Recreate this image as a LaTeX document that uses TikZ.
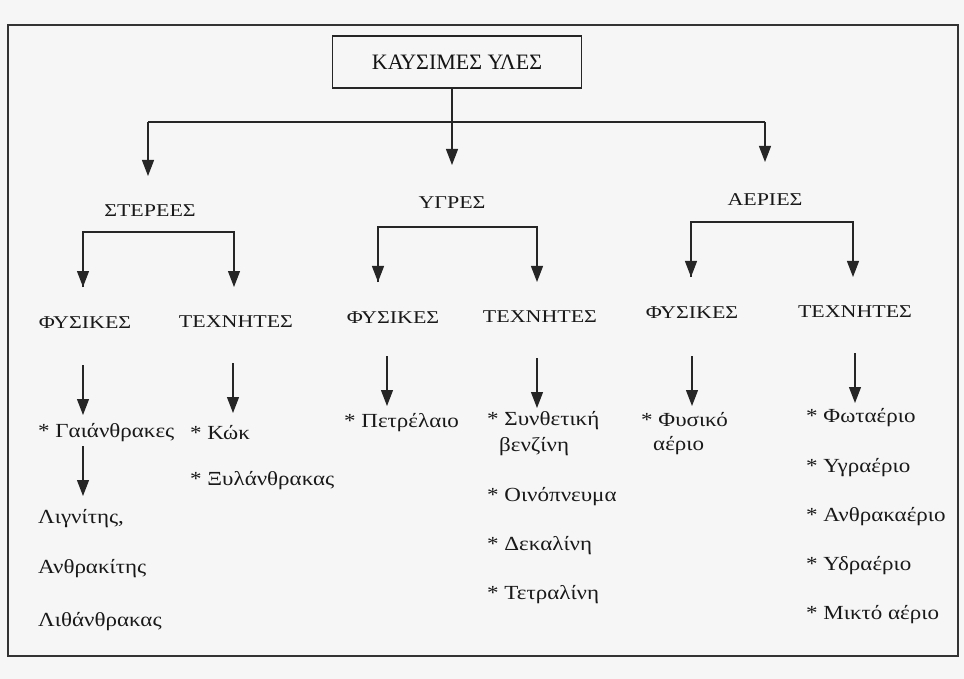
\documentclass[tikz,border=0pt]{standalone}
\usepackage{fontspec}
\setmainfont{Liberation Serif}
\newfontfamily\catfont[FakeStretch=1.22]{Liberation Serif}
\newfontfamily\itemfont[FakeStretch=1.15]{Liberation Serif}
\usetikzlibrary{arrows.meta}
\begin{document}
\begin{tikzpicture}[x=1pt,y=-1pt,
  conn/.style={line width=1.2pt, draw=black!85},
  arr/.style={conn, -{Triangle[width=12pt,length=16pt]}},
  cat/.style={inner sep=1pt, font=\catfont\fontsize{18}{21}\selectfont, text=black!90},
  item/.style={inner sep=0pt, anchor=west, font=\itemfont\fontsize{20}{23}\selectfont, text=black!90},
  topbox/.style={draw=black!85, line width=1.6pt, minimum width=249pt, minimum height=52pt, font=\fontsize{22}{25}\selectfont, text=black!92}
]
\fill[gray!7] (0,0) rectangle (964,679);
\useasboundingbox (0,0) rectangle (964,679);
\draw[line width=1.8pt, draw=black!80] (8,25) rectangle (958,656);

% root
\node[topbox] (root) at (457,62) {ΚΑΥΣΙΜΕΣ ΥΛΕΣ};

% level 2
\node[cat] (ster) at (150,211) {ΣΤΕΡΕΕΣ};
\node[cat] (ygr) at (452,203) {ΥΓΡΕΣ};
\node[cat] (aer) at (765,200) {ΑΕΡΙΕΣ};
\coordinate (busL) at (148,122);
\coordinate (busR) at (765,122);
\coordinate (busM) at (452,122);
\draw[conn] (busL) -- (busR);
\draw[arr] (root.south -| busM) -- (452,165);
\draw[arr] (busL) -- (148,176);
\draw[arr] (busR) -- (765,162);

% level 3
\node[cat] (s1) at (85,323) {ΦΥΣΙΚΕΣ};
\node[cat] (s2) at (236,322) {ΤΕΧΝΗΤΕΣ};
\node[cat] (y1) at (393,318) {ΦΥΣΙΚΕΣ};
\node[cat] (y2) at (540,317) {ΤΕΧΝΗΤΕΣ};
\node[cat] (a1) at (692,313) {ΦΥΣΙΚΕΣ};
\node[cat] (a2) at (855,312) {ΤΕΧΝΗΤΕΣ};

\draw[arr] (83,287) -- (83,232) -- (234,232) -- (234,287);
\draw[arr] (83,232) -- (83,287);
\draw[arr] (378,282) -- (378,227) -- (537,227) -- (537,282);
\draw[arr] (378,227) -- (378,282);
\draw[arr] (691,277) -- (691,222) -- (853,222) -- (853,277);
\draw[arr] (691,222) -- (691,277);

% level 4 arrows
\draw[arr] (83,365) -- (83,415);
\draw[arr] (233,363) -- (233,413);
\draw[arr] (387,356) -- (387,406);
\draw[arr] (537,358) -- (537,408);
\draw[arr] (692,356) -- (692,406);
\draw[arr] (855,353) -- (855,403);

% items
\node[item] (i1) at (38,433) {* Γαιάνθρακες};
\draw[arr] (83,446) -- (83,496);
\node[item] (i1a) at (38,519) {Λιγνίτης,};
\node[item] (i1b) at (38,569) {Ανθρακίτης};
\node[item] (i1c) at (38,622) {Λιθάνθρακας};

\node[item] (i2) at (190,433) {* Κώκ};
\node[item] (i2b) at (190,481) {* Ξυλάνθρακας};

\node[item] (i3) at (344,423) {* Πετρέλαιο};

\node[item] (i4) at (487,421) {* Συνθετική};
\node[item] (i4x) at (499,447) {βενζίνη};
\node[item] (i4b) at (487,497) {* Οινόπνευμα};
\node[item] (i4c) at (487,546) {* Δεκαλίνη};
\node[item] (i4d) at (487,595) {* Τετραλίνη};

\node[item] (i5) at (641,420) {* Φυσικό};
\node[item] (i5x) at (653,446) {αέριο};

\node[item] (i6) at (806,418) {* Φωταέριο};
\node[item] (i6b) at (806,468) {* Υγραέριο};
\node[item] (i6c) at (806,517) {* Ανθρακαέριο};
\node[item] (i6d) at (806,566) {* Υδραέριο};
\node[item] (i6e) at (806,615) {* Μικτό αέριο};
\end{tikzpicture}
\end{document}
